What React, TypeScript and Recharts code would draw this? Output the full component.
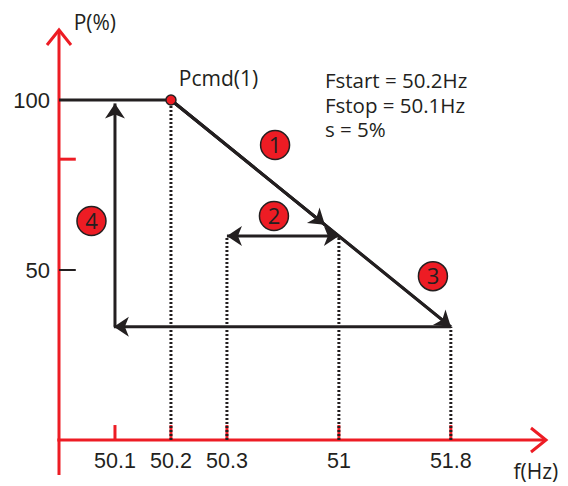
import React from 'react';
import {
  ComposedChart,
  Line,
  XAxis,
  YAxis,
  ReferenceLine,
  ReferenceDot,
} from 'recharts';

// frequency axis is drawn in "slots", not linear Hz
const fLabels = ['50.1', '50.2', '50.3', '51', '51.8'];
const fSlots = [1, 2, 3, 5, 7];
const pTicks = [50, 100];

// droop curve: flat at Pcmd until Fstart, then falls with slope s
const curveF = [0, 2, 7];
const curveP = [100, 100, 33.3];
const pAt51 = 60;
const pAt518 = 33.3;
const pReturn = 99;

const notes = ['Fstart = 50.2Hz', 'Fstop = 50.1Hz', 's = 5%'];

const RED = '#ed1c24';
const INK = '#231f20';
const FONT = '"Open Sans", sans-serif';
const TICK_FONT = '"Liberation Sans", Arial, sans-serif';

const curveData = curveF.map((f, i) => ({ f, p: curveP[i] }));

const head = (tx: number, ty: number, ux: number, uy: number, color: string) => {
  const L = 15;
  const W = 10;
  const px = -uy;
  const py = ux;
  const pts = [
    [tx, ty],
    [tx - L * ux + W * px, ty - L * uy + W * py],
    [tx - (L - 4) * ux, ty - (L - 4) * uy],
    [tx - L * ux - W * px, ty - L * uy - W * py],
  ];
  return <polygon points={pts.map((q) => q.join(',')).join(' ')} fill={color} />;
};

const Arrow = (props: any) => {
  const { x1, y1, x2, y2, heads = 'end' } = props;
  const len = Math.hypot(x2 - x1, y2 - y1) || 1;
  const ux = (x2 - x1) / len;
  const uy = (y2 - y1) / len;
  return (
    <g>
      <line x1={x1} y1={y1} x2={x2} y2={y2} stroke={INK} strokeWidth={3} />
      {heads !== 'start' && head(x2, y2, ux, uy, INK)}
      {heads !== 'end' && head(x1, y1, -ux, -uy, INK)}
    </g>
  );
};

// red axis with an open chevron at the end
const AxisArrow = (props: any) => {
  const { x1, y1, x2, y2 } = props;
  const len = Math.hypot(x2 - x1, y2 - y1) || 1;
  const ux = (x2 - x1) / len;
  const uy = (y2 - y1) / len;
  const L = 15;
  const W = 12;
  const a = `${x2 - L * ux - W * uy},${y2 - L * uy + W * ux}`;
  const b = `${x2 - L * ux + W * uy},${y2 - L * uy - W * ux}`;
  return (
    <g>
      <line x1={x1} y1={y1} x2={x2} y2={y2} stroke={RED} strokeWidth={3} />
      <polyline points={`${a} ${x2},${y2} ${b}`} fill="none" stroke={RED} strokeWidth={3} />
    </g>
  );
};

const Badge = ({ cx, cy, n }: any) => (
  <g>
    <circle cx={cx} cy={cy} r={14.5} fill={RED} stroke={INK} strokeWidth={1.5} />
    <text x={cx} y={cy + 8} textAnchor="middle" fontSize={22} fontFamily={FONT} fill={INK}>
      {n}
    </text>
  </g>
);

const Txt = ({ cx, cy, t, anchor = 'start', size = 21 }: any) => (
  <text x={cx} y={cy} textAnchor={anchor} fontSize={size} fontFamily={FONT} fill={INK}>
    {t}
  </text>
);

// the three parameter lines as one text block
const Notes = ({ cx, cy }: any) => (
  <text x={cx} y={cy} fontSize={20.5} fontFamily={FONT} fill={INK}>
    {notes.map((t, i) => (
      <tspan key={t} x={cx} dy={i === 0 ? 0 : 24.5}>
        {t}
      </tspan>
    ))}
  </text>
);

export default function App() {
  return (
    <div style={{ position: 'absolute', left: 0, top: 0, background: '#fff' }}>
      <ComposedChart
        width={568}
        height={486}
        data={curveData}
        margin={{ top: 30, right: 22, left: 0, bottom: 0 }}
      >
        <XAxis
          dataKey="f"
          type="number"
          domain={[0, 8.7]}
          allowDataOverflow
          ticks={fSlots}
          tickFormatter={(v) => fLabels[fSlots.indexOf(v)] ?? ''}
          axisLine={false}
          tickLine={false}
          tickMargin={7}
          height={46}
          tick={{ fill: INK, fontSize: 21.5, fontFamily: TICK_FONT }}
        />
        <YAxis
          type="number"
          domain={[0, 120.6]}
          allowDataOverflow
          ticks={pTicks}
          axisLine={false}
          tickLine={false}
          tickMargin={3}
          width={59}
          tick={{ fill: INK, fontSize: 22, fontFamily: TICK_FONT }}
        />

        {/* axes */}
        <ReferenceLine
          segment={[{ x: 0, y: -10.3 }, { x: 0, y: 120.6 }]}
          ifOverflow="visible"
          shape={(p: any) => <AxisArrow {...p} />}
        />
        <ReferenceLine
          segment={[{ x: -0.03, y: 0 }, { x: 8.7, y: 0 }]}
          ifOverflow="visible"
          shape={(p: any) => <AxisArrow {...p} />}
        />
        {fSlots.map((s) => (
          <ReferenceLine
            key={s}
            segment={[{ x: s, y: 0 }, { x: s, y: 4.4 }]}
            stroke={RED}
            strokeWidth={3}
          />
        ))}
        <ReferenceLine segment={[{ x: 0, y: 82.6 }, { x: 0.3, y: 82.6 }]} stroke={RED} strokeWidth={3} />
        <ReferenceLine segment={[{ x: 0, y: 50 }, { x: 0.3, y: 50 }]} stroke={INK} strokeWidth={2} />

        {/* projections */}
        <ReferenceLine segment={[{ x: 2, y: 0 }, { x: 2, y: 100 }]} stroke={INK} strokeWidth={3} strokeDasharray="2 2" />
        <ReferenceLine segment={[{ x: 3, y: 0 }, { x: 3, y: pAt51 }]} stroke={INK} strokeWidth={3} strokeDasharray="2 2" />
        <ReferenceLine segment={[{ x: 5, y: 0 }, { x: 5, y: pAt51 }]} stroke={INK} strokeWidth={3} strokeDasharray="2 2" />
        <ReferenceLine segment={[{ x: 7, y: 0 }, { x: 7, y: pAt518 }]} stroke={INK} strokeWidth={3} strokeDasharray="2 2" />

        <Line
          dataKey="p"
          type="linear"
          stroke={INK}
          strokeWidth={3}
          dot={false}
          isAnimationActive={false}
        />

        {/* arrows 1-4 */}
        <ReferenceLine
          segment={[{ x: 2, y: 100 }, { x: 4.75, y: 63.3 }]}
          shape={(p: any) => <Arrow {...p} />}
        />
        <ReferenceLine
          segment={[{ x: 2, y: 100 }, { x: 7, y: pAt518 }]}
          shape={(p: any) => <Arrow {...p} />}
        />
        <ReferenceLine
          segment={[{ x: 3, y: pAt51 }, { x: 5, y: pAt51 }]}
          shape={(p: any) => <Arrow {...p} heads="both" />}
        />
        <ReferenceLine
          segment={[{ x: 7, y: pAt518 }, { x: 0.98, y: pAt518 }]}
          shape={(p: any) => <Arrow {...p} />}
        />
        <ReferenceLine
          segment={[{ x: 1, y: pAt518 }, { x: 1, y: pReturn }]}
          shape={(p: any) => <Arrow {...p} />}
        />

        <ReferenceDot x={2} y={100} r={5} fill={RED} stroke={INK} strokeWidth={1.5} />

        <ReferenceDot x={3.86} y={86.8} shape={(p: any) => <Badge {...p} n="1" />} />
        <ReferenceDot x={3.84} y={65.9} shape={(p: any) => <Badge {...p} n="2" />} />
        <ReferenceDot x={6.68} y={48.2} shape={(p: any) => <Badge {...p} n="3" />} />
        <ReferenceDot x={0.58} y={64.4} shape={(p: any) => <Badge {...p} n="4" />} />

        <ReferenceDot x={2.14} y={104.1} shape={(p: any) => <Txt {...p} t="Pcmd(1)" />} />
        <ReferenceDot x={4.75} y={103.5} shape={(p: any) => <Notes {...p} />} />
        <ReferenceDot
          x={0.64}
          y={120.6}
          ifOverflow="visible"
          shape={(p: any) => <Txt {...p} t="P(%)" anchor="middle" />}
        />
        <ReferenceDot
          x={8.52}
          y={-11.6}
          ifOverflow="visible"
          shape={(p: any) => <Txt {...p} t="f(Hz)" anchor="middle" />}
        />
      </ComposedChart>
    </div>
  );
}
